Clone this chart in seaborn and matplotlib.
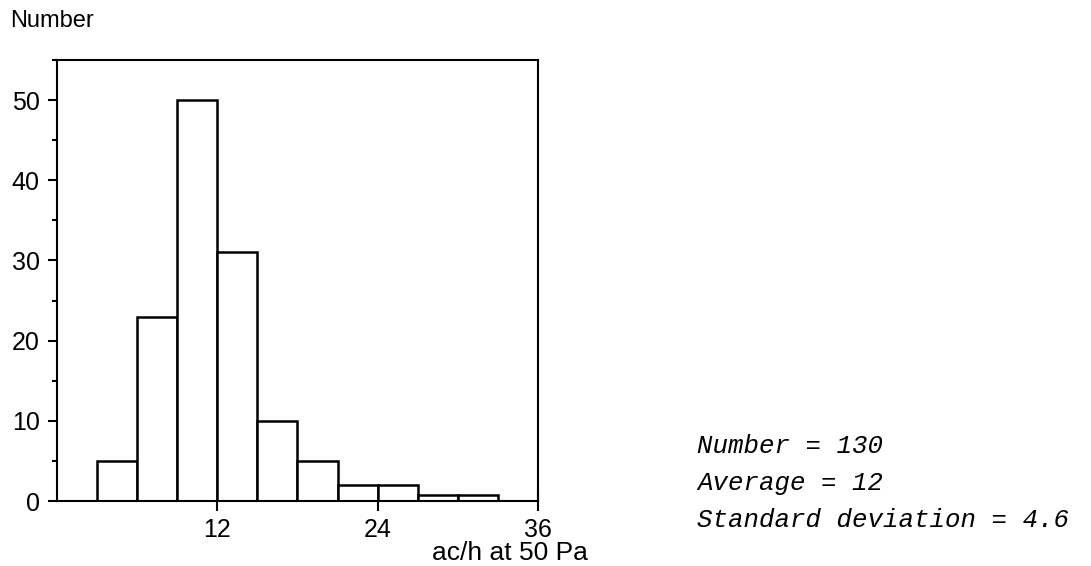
import matplotlib
matplotlib.use("Agg")
import matplotlib.pyplot as plt
from matplotlib.ticker import MultipleLocator
import seaborn as sns
import numpy as np

# Data
bin_edges = [3, 6, 9, 12, 15, 18, 21, 24, 27, 30, 33]
counts = [5, 23, 50, 31, 10, 5, 2, 2, 0.7, 0.7]
x_ticks = [12, 24, 36]
y_ticks = [0, 10, 20, 30, 40, 50]
stats_lines = ["Number = 130", "Average = 12", "Standard deviation = 4.6"]

bin_centers = [(a + b) / 2 for a, b in zip(bin_edges[:-1], bin_edges[1:])]

sns.set_theme(style="white")
plt.rcParams["font.family"] = ["Liberation Sans", "DejaVu Sans"]
plt.rcParams["text.color"] = "black"
plt.rcParams["xtick.color"] = "black"
plt.rcParams["ytick.color"] = "black"

fig = plt.figure(figsize=(10.91, 5.66), dpi=100)
ax = fig.add_axes([0.0522, 0.1148, 0.4409, 0.7792])

sns.histplot(x=bin_centers, weights=counts, bins=bin_edges, ax=ax,
             color="white", edgecolor="black", linewidth=1.8, alpha=1.0)

ax.set_xlim(0, 36)
ax.set_ylim(0, 55)
ax.set_xticks(x_ticks)
ax.set_yticks(y_ticks)
ax.yaxis.set_minor_locator(MultipleLocator(5))
ax.set_xticklabels([str(t) for t in x_ticks], fontsize=18)
ax.set_yticklabels([str(t) for t in y_ticks], fontsize=18)
ax.tick_params(axis="x", which="major", bottom=True, direction="inout", length=14,
               width=1.5, pad=5, colors="black", labelcolor="black")
ax.tick_params(axis="y", which="major", left=True, direction="out", length=6.5,
               width=1.5, pad=6, colors="black", labelcolor="black")
ax.tick_params(axis="y", which="minor", left=True, direction="out", length=3.6, width=1.5,
               colors="black")
for s in ax.spines.values():
    s.set_color("black")
    s.set_linewidth(1.5)

ax.set_xlabel("")
ax.set_ylabel("")
fig.text(10 / 1091, 1 - 21 / 566, "Number", fontsize=17, ha="left", va="center", color="black")
fig.text(588 / 1091, 1 - 553 / 566, "ac/h at 50 Pa", fontsize=19, ha="right", va="center",
         color="black")

ys = [446, 483, 520]
for line, y in zip(stats_lines, ys):
    fig.text(697 / 1091, 1 - y / 566, line, fontsize=18.5, ha="left", va="center",
             family=["Liberation Mono", "DejaVu Sans Mono"], style="italic", color="black")

fig.savefig("out.png", dpi=100)
